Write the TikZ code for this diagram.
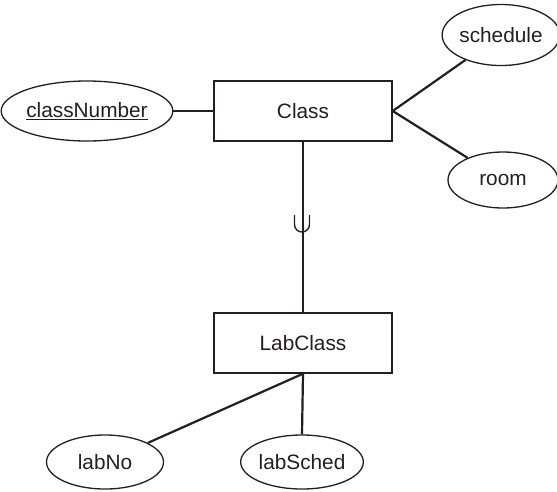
\documentclass[tikz,border=0pt]{standalone}
\usepackage{fontspec}
\setmainfont{Liberation Sans}
\usetikzlibrary{shapes.geometric}
\definecolor{ink}{HTML}{231F20}
\begin{document}
\begin{tikzpicture}[x=1pt,y=-1pt,
  every node/.style={font=\fontsize{20.8}{24}\selectfont, text=ink},
  entity/.style={draw=ink, line width=1.4pt, rectangle, minimum width=178pt, minimum height=60pt, inner sep=0pt},
  attr/.style={draw=ink, line width=1.3pt, ellipse, inner sep=0pt},
  conn/.style={draw=ink, line width=2.2pt}]
\useasboundingbox (0,0) rectangle (557,491);
\node[entity] (class) at (303,111) {Class};
\node[entity] (labclass) at (303,343) {LabClass};
\node[attr, minimum width=156pt, minimum height=60pt] (classnumber) at (87,111) {\underline{classNumber}};
\node[attr, minimum width=112pt, minimum height=61pt] (schedule) at (501,35) {schedule};
\node[attr, minimum width=110pt, minimum height=56pt] (room) at (503,180) {room};
\node[attr, minimum width=117pt, minimum height=54pt] (labno) at (105,462) {labNo};
\node[attr, minimum width=117pt, minimum height=54pt] (labsched) at (302,462) {labSched};
\draw[conn] (classnumber) -- (class);
\draw[conn] (class.east) -- (schedule);
\draw[conn] (class.east) -- (room);
\draw[conn] (class.south) -- (labclass.north);
\draw[conn] (labclass.south) -- (labno);
\draw[conn] (labclass.south) -- (labsched.north);
\draw[draw=ink, line width=1.4pt] (294.5,215) -- (294.5,224.5) arc[start angle=180, end angle=0, radius=7.5] -- (309.5,215);
\end{tikzpicture}
\end{document}
